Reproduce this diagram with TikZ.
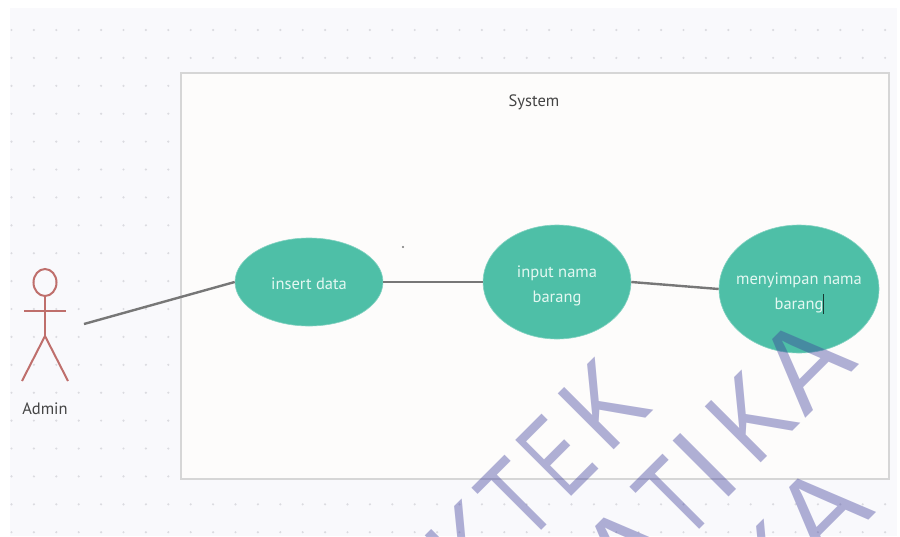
\documentclass[tikz,border=0pt]{standalone}
\usepackage{fontspec}
\setmainfont{PT Sans}
\newfontfamily\wmfont{Liberation Sans}
\usetikzlibrary{shapes.geometric}
\definecolor{pagebg}{HTML}{F9F9FC}
\definecolor{griddot}{HTML}{DBDBE0}
\definecolor{sysfill}{HTML}{FDFCFB}
\definecolor{sysline}{HTML}{D6D6D6}
\definecolor{teal}{HTML}{4EBFA7}
\definecolor{tealtext}{HTML}{E4F8F2}
\definecolor{conn}{HTML}{777777}
\definecolor{actorc}{HTML}{BF6F6C}
\definecolor{wm}{HTML}{3C3C9A}
\definecolor{ink}{HTML}{444444}
\tikzset{
  usecase/.style={ellipse,fill=teal,draw=teal!70!white,line width=0.6pt,inner sep=0pt},
  uctext/.style={text=tealtext,align=center,inner sep=0pt,font=\fontsize{16.5}{25}\selectfont},
  link/.style={draw=conn,line width=2.4pt},
  actorline/.style={draw=actorc,line width=2pt},
  label/.style={text=ink,inner sep=0pt,font=\fontsize{16.5}{20}\selectfont},
  wmark/.style={text=wm,text opacity=0.4,rotate=45,inner sep=0pt,font=\wmfont\fontsize{115}{115}\selectfont}
}
\begin{document}
\begin{tikzpicture}[x=1pt,y=-1pt]
\useasboundingbox (0,0) rectangle (900,536);
\clip (0,0) rectangle (900,536);
\fill[white] (0,0) rectangle (900,536);
\fill[pagebg] (10,8) rectangle (897,536);
\foreach \i in {0,...,39}{
  \foreach \j in {0,...,18}{
    \fill[griddot] ({11.5+22.4*\i},{30+27.9*\j}) circle (1.2);
  }
}
\node[draw=sysline,fill=sysfill,line width=2pt,minimum width=708pt,minimum height=406pt,inner sep=0pt,anchor=north west] (system) at (180,72) {};
\node[label] (systemlabel) at (534,102) {System};
\node[usecase,minimum width=148pt,minimum height=88pt] (insert) at (309,282) {};
\node[uctext] (inserttext) at (309,284) {insert data};
\node[usecase,minimum width=148pt,minimum height=114pt] (input) at (557,282) {};
\node[uctext] (inputtext) at (557,285.5) {input nama\\barang};
\node[usecase,minimum width=160pt,minimum height=128pt] (save) at (799,289) {};
\node[uctext] (savetext) at (799,292.5) {menyimpan nama\\barang};
\fill[black!70!teal] (823,294) rectangle (824.4,314);
\fill[conn] (403,247) circle (1.1);
% actor
\node[draw=actorc,line width=2pt,ellipse,minimum width=23pt,minimum height=27pt,inner sep=0pt] (head) at (45,282.5) {};
\coordinate (hip) at (45,336);
\coordinate (armL) at (24,311);
\coordinate (armR) at (66,311);
\coordinate (legL) at (22,381);
\coordinate (legR) at (68,381);
\draw[actorline] (head.south) -- (hip);
\draw[actorline] (armL) -- (armR);
\draw[actorline] (legL) -- (hip) -- (legR);
\node[label] (admin) at (45,408.5) {Admin};
\coordinate (actorend) at (84,324);
\draw[link] (actorend) -- (insert.west);
\draw[link] (insert.east) -- (input.west);
\draw[link] (input.east) -- (save.west);
% watermark
\node[wmark,xscale=0.85] (w2) at (471,546) {K};
\node[wmark,xscale=0.72] (w3) at (516,500) {T};
\node[wmark,xscale=0.62] (w4) at (556,456) {E};
\node[wmark,xscale=0.85] (w5) at (604,404) {K};
\node[wmark] (w6) at (628,550) {A};
\node[wmark,xscale=0.72] (w7) at (674,499) {T};
\node[wmark] (w8) at (705,465) {I};
\node[wmark,xscale=0.85] (w9) at (751,417) {K};
\node[wmark] (w10) at (805,363) {A};
\node[wmark,xscale=0.85] (w11) at (773,566) {K};
\node[wmark] (w12) at (822,511) {A};
\end{tikzpicture}
\end{document}
